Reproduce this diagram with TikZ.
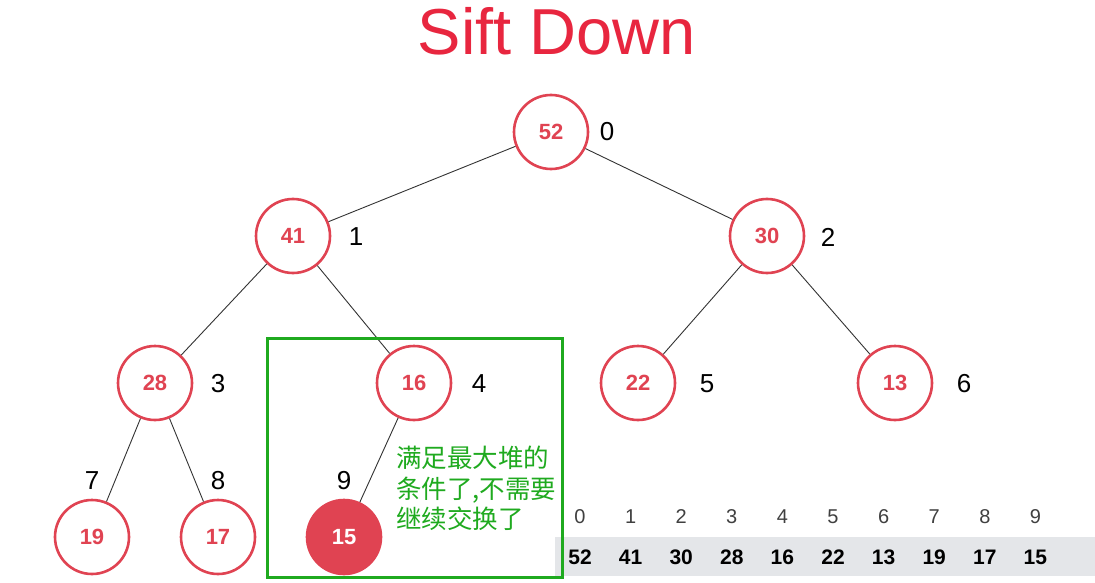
\documentclass[tikz,border=0pt]{standalone}
\usepackage{fontspec}
\setmainfont{Liberation Sans}
\newfontfamily\cjk{Noto Sans CJK SC}
\definecolor{nodered}{HTML}{E04352}
\definecolor{titlered}{HTML}{E8263F}
\definecolor{boxgreen}{HTML}{1FAA1F}
\definecolor{bandgray}{HTML}{E4E6E9}
\definecolor{edgegray}{HTML}{333333}
\begin{document}
\begin{tikzpicture}[x=1pt,y=-1pt,
  heapnode/.style={circle,draw=nodered,line width=2.6pt,fill=white,minimum size=74pt,inner sep=0pt,
     text=nodered,font=\fontsize{22}{22}\selectfont\bfseries},
  hotnode/.style={heapnode,fill=nodered,text=white},
  idx/.style={font=\fontsize{26}{26}\selectfont,text=black},
  aidx/.style={font=\fontsize{20}{20}\selectfont,text=black!75},
  aval/.style={font=\fontsize{21}{21}\selectfont\bfseries,text=black},
  edge/.style={draw=edgegray,line width=0.9pt}]
\useasboundingbox (0,0) rectangle (1095,583);
\fill[white] (0,0) rectangle (1095,583);
\node[font=\fontsize{65}{65}\selectfont,text=titlered] (title) at (557,31) {Sift Down};
% array band
\fill[bandgray] (555,537) rectangle (1095,576);
% nodes
\node[heapnode] (n0) at (551,132) {52};
\node[heapnode] (n1) at (293,236) {41};
\node[heapnode] (n2) at (767,236) {30};
\node[heapnode] (n3) at (155,383) {28};
\node[heapnode] (n4) at (414,383) {16};
\node[heapnode] (n5) at (638,383) {22};
\node[heapnode] (n6) at (895,383) {13};
\node[heapnode] (n7) at (92,537) {19};
\node[heapnode] (n8) at (218,537) {17};
\node[hotnode] (n9) at (344,537) {15};
% edges
\draw[edge] (n0) -- (n1);
\draw[edge] (n0) -- (n2);
\draw[edge] (n1) -- (n3);
\draw[edge] (n1) -- (n4);
\draw[edge] (n2) -- (n5);
\draw[edge] (n2) -- (n6);
\draw[edge] (n3) -- (n7);
\draw[edge] (n3) -- (n8);
\draw[edge] (n4) -- (n9);
% index labels
\node[idx] (i0) at (607,132) {0};
\node[idx] (i1) at (356,237) {1};
\node[idx] (i2) at (828,237) {2};
\node[idx] (i3) at (218,384) {3};
\node[idx] (i4) at (479,384) {4};
\node[idx] (i5) at (707,384) {5};
\node[idx] (i6) at (964,384) {6};
\node[idx] (i7) at (92,481) {7};
\node[idx] (i8) at (218,481) {8};
\node[idx] (i9) at (344,481) {9};
% green box
\node[draw=boxgreen,line width=2.6pt,minimum width=295pt,minimum height=239pt,inner sep=0pt] (gbox) at (415,458) {};
\node[anchor=north west,text=boxgreen,align=left,inner sep=0pt,
  font=\cjk\fontsize{25.5}{30.5}\selectfont] (note) at (396,446) {满足最大堆的\\条件了,不需要\\继续交换了};
% array
\foreach \i/\v [count=\k from 0] in {0/52,1/41,2/30,3/28,4/16,5/22,6/13,7/19,8/17,9/15}{
  \node[aidx] (a\i) at (580+50.6*\k,517) {\i};
  \node[aval] (v\i) at (580+50.6*\k,557) {\v};
}
\end{tikzpicture}
\end{document}
